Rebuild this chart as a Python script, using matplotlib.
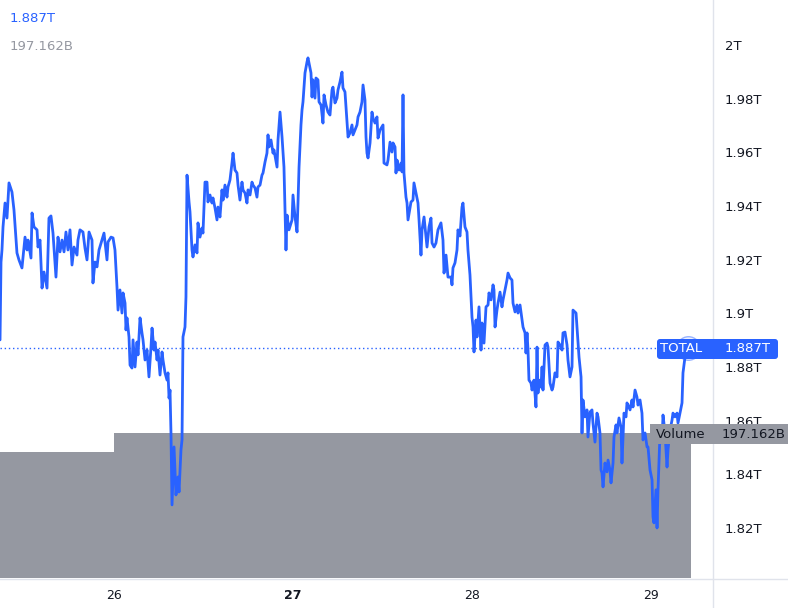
import matplotlib
matplotlib.use("Agg")
import matplotlib.pyplot as plt
from matplotlib.patches import FancyBboxPatch, Rectangle
from matplotlib.lines import Line2D
from matplotlib.transforms import IdentityTransform
import numpy as np

# ---------------- data ----------------
# time in hours since day 25, 00:00
hours = [
    8.72, 8.85, 8.98, 9.12, 9.39, 9.65, 9.92, 10.32, 10.59, 10.99,
    11.26, 11.66, 12.07, 12.34, 12.47, 12.87, 13.01, 13.27, 13.68, 13.81,
    14.08, 14.35, 14.61, 15.02, 15.28, 15.55, 15.82, 16.22, 16.49, 16.76,
    17.03, 17.30, 17.56, 17.83, 18.10, 18.37, 18.64, 19.04, 19.17, 19.44,
    19.84, 20.11, 20.38, 20.65, 21.05, 21.18, 21.45, 21.72, 21.99, 22.39,
    22.66, 23.06, 23.20, 23.60, 23.87, 24.13, 24.40, 24.54, 24.80, 25.07,
    25.21, 25.48, 25.61, 25.74, 26.01, 26.15, 26.41, 26.55, 26.82, 27.08,
    27.22, 27.49, 27.75, 27.89, 28.16, 28.43, 28.69, 28.96, 29.10, 29.36,
    29.50, 29.77, 29.90, 30.17, 30.44, 30.57, 30.84, 31.11, 31.24, 31.38,
    31.51, 31.64, 31.78, 32.05, 32.31, 32.58, 32.72, 32.98, 33.12, 33.25,
    33.52, 33.65, 33.79, 34.06, 34.19, 34.46, 34.59, 34.86, 35.13, 35.26,
    35.53, 35.80, 35.93, 36.20, 36.47, 36.60, 36.87, 37.14, 37.27, 37.54,
    37.81, 37.94, 38.21, 38.48, 38.62, 38.88, 39.15, 39.29, 39.55, 39.82,
    39.96, 40.22, 40.49, 40.63, 40.89, 41.16, 41.30, 41.57, 41.83, 41.97,
    42.24, 42.50, 42.64, 42.91, 43.17, 43.31, 43.58, 43.84, 43.98, 44.25,
    44.51, 44.65, 44.78, 45.05, 45.32, 45.45, 45.86, 45.99, 46.26, 46.53,
    46.79, 47.06, 47.20, 47.46, 47.87, 48.00, 48.27, 48.54, 48.67, 48.81,
    49.07, 49.21, 49.34, 49.61, 49.88, 50.01, 50.15, 50.41, 50.55, 50.68,
    50.95, 51.08, 51.35, 51.49, 51.76, 52.02, 52.16, 52.43, 52.69, 52.96,
    53.23, 53.36, 53.63, 53.90, 54.03, 54.30, 54.57, 54.70, 54.97, 55.24,
    55.38, 55.64, 55.91, 56.05, 56.31, 56.58, 56.72, 56.98, 57.25, 57.39,
    57.65, 57.79, 57.92, 58.06, 58.33, 58.59, 58.73, 59.00, 59.26, 59.40,
    59.67, 60.07, 60.20, 60.60, 60.74, 61.01, 61.27, 61.41, 61.68, 61.81,
    61.95, 62.21, 62.48, 62.62, 62.75, 62.88, 63.15, 63.29, 63.42, 63.82,
    64.09, 64.22, 64.49, 64.76, 64.90, 65.16, 65.30, 65.57, 65.83, 65.97,
    66.24, 66.50, 66.64, 66.91, 67.17, 67.44, 67.84, 68.11, 68.25, 68.52,
    68.78, 69.19, 69.32, 69.45, 69.72, 69.99, 70.12, 70.39, 70.66, 70.79,
    71.06, 71.33, 71.46, 71.73, 72.00, 72.14, 72.27, 72.54, 72.67, 72.94,
    73.21, 73.34, 73.61, 73.88, 74.15, 74.28, 74.55, 74.82, 74.95, 75.09,
    75.35, 75.49, 75.76, 76.02, 76.16, 76.43, 76.69, 76.83, 77.10, 77.36,
    77.50, 77.77, 78.03, 78.17, 78.44, 78.71, 78.84, 79.11, 79.24, 79.38,
    79.51, 79.64, 79.91, 80.05, 80.31, 80.58, 80.72, 80.85, 80.98, 81.25,
    81.39, 81.52, 81.79, 82.06, 82.19, 82.46, 82.73, 82.86, 83.13, 83.40,
    83.53, 83.80, 84.07, 84.20, 84.47, 84.74, 84.87, 85.14, 85.41, 85.54,
    85.95, 86.08, 86.35, 86.62, 86.75, 86.88, 87.15, 87.42, 87.55, 87.82,
    88.09, 88.22, 88.49, 88.76, 88.90, 89.16, 89.30, 89.43, 89.57, 89.83,
    90.10, 90.24, 90.50, 90.64, 90.91, 91.04, 91.31, 91.44, 91.71, 91.98,
    92.11, 92.38, 92.65, 92.78, 92.92, 93.19, 93.45, 93.59, 93.86, 94.12,
    94.26, 94.53, 94.79, 94.93, 95.20, 95.47, 95.60, 95.87, 96.14, 96.27,
    96.40, 96.67, 96.81, 96.94, 97.07, 97.21, 97.48, 97.61, 97.88, 98.15,
    98.28, 98.55, 98.82, 98.95, 99.22, 99.49, 99.62, 99.89, 100.16, 100.29,
    100.56, 100.83, 100.96,
]

# TOTAL market cap, trillions
total_t = [
    1.8901, 1.9191, 1.9236, 1.9322, 1.9411, 1.9355, 1.9486, 1.9452, 1.9385, 1.9225,
    1.9199, 1.9169, 1.9284, 1.9236, 1.9273, 1.9206, 1.9374, 1.9322, 1.9311, 1.9247,
    1.9273, 1.9094, 1.9154, 1.9094, 1.9355, 1.9363, 1.9299, 1.9135, 1.9284, 1.9229,
    1.9273, 1.9229, 1.9303, 1.9236, 1.9311, 1.9180, 1.9247, 1.9217, 1.9273, 1.9311,
    1.9303, 1.9243, 1.9199, 1.9303, 1.9273, 1.9113, 1.9191, 1.9173, 1.9236, 1.9273,
    1.9299, 1.9199, 1.9266, 1.9284, 1.9281, 1.9236, 1.9098, 1.9012, 1.9087, 1.9001,
    1.9076, 1.9038, 1.8938, 1.8983, 1.8912, 1.8807, 1.8796, 1.8901, 1.8800, 1.8893,
    1.8845, 1.8983, 1.8927, 1.8901, 1.8826, 1.8863, 1.8763, 1.8874, 1.8945, 1.8863,
    1.8893, 1.8826, 1.8863, 1.8770, 1.8856, 1.8826, 1.8778, 1.8751, 1.8778, 1.8684,
    1.8714, 1.8554, 1.8286, 1.8502, 1.8323, 1.8390, 1.8334, 1.8491, 1.8528, 1.8912,
    1.8949, 1.9061, 1.9515, 1.9415, 1.9378, 1.9236, 1.9210, 1.9255, 1.9225, 1.9337,
    1.9284, 1.9318, 1.9299, 1.9489, 1.9489, 1.9415, 1.9441, 1.9411, 1.9430, 1.9393,
    1.9348, 1.9396, 1.9359, 1.9460, 1.9422, 1.9478, 1.9433, 1.9471, 1.9497, 1.9560,
    1.9597, 1.9534, 1.9523, 1.9478, 1.9422, 1.9489, 1.9460, 1.9448, 1.9411, 1.9460,
    1.9441, 1.9489, 1.9478, 1.9467, 1.9433, 1.9471, 1.9478, 1.9515, 1.9523, 1.9564,
    1.9597, 1.9665, 1.9620, 1.9646, 1.9597, 1.9609, 1.9545, 1.9646, 1.9750, 1.9657,
    1.9545, 1.9236, 1.9366, 1.9311, 1.9348, 1.9441, 1.9359, 1.9303, 1.9411, 1.9545,
    1.9702, 1.9758, 1.9788, 1.9896, 1.9937, 1.9952, 1.9933, 1.9896, 1.9806, 1.9870,
    1.9802, 1.9877, 1.9870, 1.9788, 1.9776, 1.9709, 1.9814, 1.9776, 1.9750, 1.9739,
    1.9832, 1.9843, 1.9784, 1.9802, 1.9832, 1.9862, 1.9899, 1.9840, 1.9825, 1.9713,
    1.9657, 1.9672, 1.9702, 1.9665, 1.9683, 1.9702, 1.9732, 1.9750, 1.9788, 1.9851,
    1.9795, 1.9657, 1.9597, 1.9579, 1.9635, 1.9750, 1.9728, 1.9709, 1.9732, 1.9653,
    1.9683, 1.9702, 1.9560, 1.9553, 1.9571, 1.9638, 1.9601, 1.9635, 1.9620, 1.9523,
    1.9571, 1.9534, 1.9560, 1.9527, 1.9814, 1.9523, 1.9433, 1.9411, 1.9348, 1.9415,
    1.9422, 1.9486, 1.9448, 1.9411, 1.9348, 1.9217, 1.9311, 1.9359, 1.9284, 1.9247,
    1.9322, 1.9355, 1.9262, 1.9247, 1.9262, 1.9311, 1.9337, 1.9273, 1.9150, 1.9217,
    1.9135, 1.9135, 1.9106, 1.9169, 1.9188, 1.9236, 1.9311, 1.9288, 1.9396, 1.9411,
    1.9322, 1.9303, 1.9236, 1.9143, 1.8986, 1.8949, 1.8856, 1.8975, 1.8912, 1.9024,
    1.8863, 1.8964, 1.8889, 1.9024, 1.9031, 1.9076, 1.9050, 1.9106, 1.9087, 1.8949,
    1.9012, 1.9038, 1.9079, 1.9024, 1.9050, 1.9087, 1.9124, 1.9150, 1.9132, 1.9124,
    1.9038, 1.9005, 1.9031, 1.9001, 1.9031, 1.8975, 1.8949, 1.8927, 1.8852, 1.8927,
    1.8863, 1.8751, 1.8740, 1.8714, 1.8751, 1.8651, 1.8874, 1.8703, 1.8751, 1.8725,
    1.8800, 1.8714, 1.8882, 1.8889, 1.8874, 1.8740, 1.8714, 1.8725, 1.8778, 1.8763,
    1.8893, 1.8882, 1.8863, 1.8927, 1.8930, 1.8882, 1.8826, 1.8763, 1.8800, 1.9012,
    1.9001, 1.8949, 1.8837, 1.8763, 1.8554, 1.8677, 1.8614, 1.8640, 1.8539, 1.8632,
    1.8640, 1.8591, 1.8520, 1.8628, 1.8614, 1.8554, 1.8416, 1.8405, 1.8353, 1.8442,
    1.8409, 1.8453, 1.8416, 1.8368, 1.8442, 1.8539, 1.8584, 1.8554, 1.8610, 1.8576,
    1.8442, 1.8628, 1.8614, 1.8666, 1.8658, 1.8640, 1.8677, 1.8651, 1.8714, 1.8688,
    1.8658, 1.8677, 1.8628, 1.8528, 1.8554, 1.8502, 1.8502, 1.8416, 1.8379, 1.8241,
    1.8219, 1.8342, 1.8200, 1.8342, 1.8442, 1.8554, 1.8517, 1.8621, 1.8554, 1.8427,
    1.8491, 1.8565, 1.8602, 1.8628, 1.8614, 1.8628, 1.8591, 1.8628, 1.8666, 1.8778,
    1.8837, 1.8863, 1.8870,
]

# volume bars (billions), each starting at the given hour
vol_start_hours = [0, 24]
vol_b = [171.3, 197.162]

y_ticks = [1.82, 1.84, 1.86, 1.88, 1.90, 1.92, 1.94, 1.96, 1.98, 2.00]
y_labels = ["1.82T", "1.84T", "1.86T", "1.88T", "1.9T", "1.92T",
            "1.94T", "1.96T", "1.98T", "2T"]
x_tick_hours = [24, 48, 72, 96]
x_labels = ["26", "27", "28", "29"]

series_name = "TOTAL"
last_total_label = "1.887T"
last_volume_label = "197.162B"

# ---------------- styling ----------------
BLUE = "#2962FF"
GREY = "#9598A1"
TEXT = "#131722"
GRID = "#E0E3EB"

W, H = 788, 608
fig = plt.figure(figsize=(W / 100, H / 100), dpi=100)
fig.patch.set_facecolor("white")

def fx(px):
    return px / W

def fy(py):
    return 1 - py / H

rect = [0, fy(578), fx(712), 578 / H]
xlim = (8.715, 104.18)

# volume pane (behind)
axv = fig.add_axes(rect, zorder=0)
axv.set_xlim(*xlim)
axv.set_ylim(0, 197.162 / 0.2509)
edges = vol_start_hours + [hours[-1] + 0.4]
widths = np.diff(edges)
axv.bar(vol_start_hours, vol_b, width=widths, align="edge",
        color=GREY, linewidth=0)
axv.axis("off")

# price pane
ax = fig.add_axes(rect, zorder=1)
ax.patch.set_alpha(0)
ax.set_xlim(*xlim)
ax.set_ylim(1.80135, 2.01677)
ax.plot(hours, total_t, color=BLUE, lw=2.0, solid_joinstyle="round",
        solid_capstyle="round", zorder=3)
ax.axhline(total_t[-1], color=BLUE, lw=1.0, ls=(0, (1, 2)), zorder=2)
ax.plot([hours[-1]], [total_t[-1]], "o", ms=17,
        mfc=(0.16, 0.38, 1.0, 0.08), mec=(0.16, 0.38, 1.0, 0.45), mew=1.0,
        zorder=4)

for s in ax.spines.values():
    s.set_visible(False)
ax.yaxis.tick_right()
ax.set_yticks(y_ticks, y_labels)
ax.tick_params(axis="y", length=0, pad=9.4, labelsize=9.5, labelcolor=TEXT)
ax.set_xticks(x_tick_hours, x_labels)
ax.tick_params(axis="x", length=0, pad=8, labelsize=9, labelcolor=TEXT)
for lbl in ax.get_xticklabels():
    if lbl.get_text() == "27":
        lbl.set_fontweight("bold")

# separators
fig.add_artist(Line2D([fx(712.5), fx(712.5)], [0, 1], color=GRID, lw=1))
fig.add_artist(Line2D([0, 1], [fy(578.5), fy(578.5)], color=GRID, lw=1))

# legend texts top-left
fig.text(fx(10), fy(18), last_total_label, color=BLUE, fontsize=9.5,
         va="center", ha="left")
fig.text(fx(10), fy(47), last_volume_label, color=GREY, fontsize=9.5,
         va="center", ha="left")

# last value label (TOTAL)
ident = IdentityTransform()
tot_box = FancyBboxPatch((657, H - 359), 121, 20,
                         boxstyle="round,pad=0,rounding_size=3",
                         facecolor=BLUE, edgecolor="none",
                         transform=ident, zorder=10)
fig.add_artist(tot_box)
fig.text(fx(660), fy(349), series_name, color="white", fontsize=9.5,
         va="center", ha="left", zorder=11)
fig.text(fx(725), fy(349), last_total_label, color="white", fontsize=9.5,
         va="center", ha="left", zorder=11)

# volume label
vol_box = Rectangle((650, H - 444), 138, 20, facecolor=GREY,
                    edgecolor="none", transform=ident, zorder=10)
fig.add_artist(vol_box)
fig.text(fx(656), fy(434), "Volume", color=TEXT, fontsize=9.5,
         va="center", ha="left", zorder=11)
fig.text(fx(722), fy(434), last_volume_label, color=TEXT, fontsize=9.5,
         va="center", ha="left", zorder=11)

fig.savefig("out.png", dpi=100, facecolor="white")
